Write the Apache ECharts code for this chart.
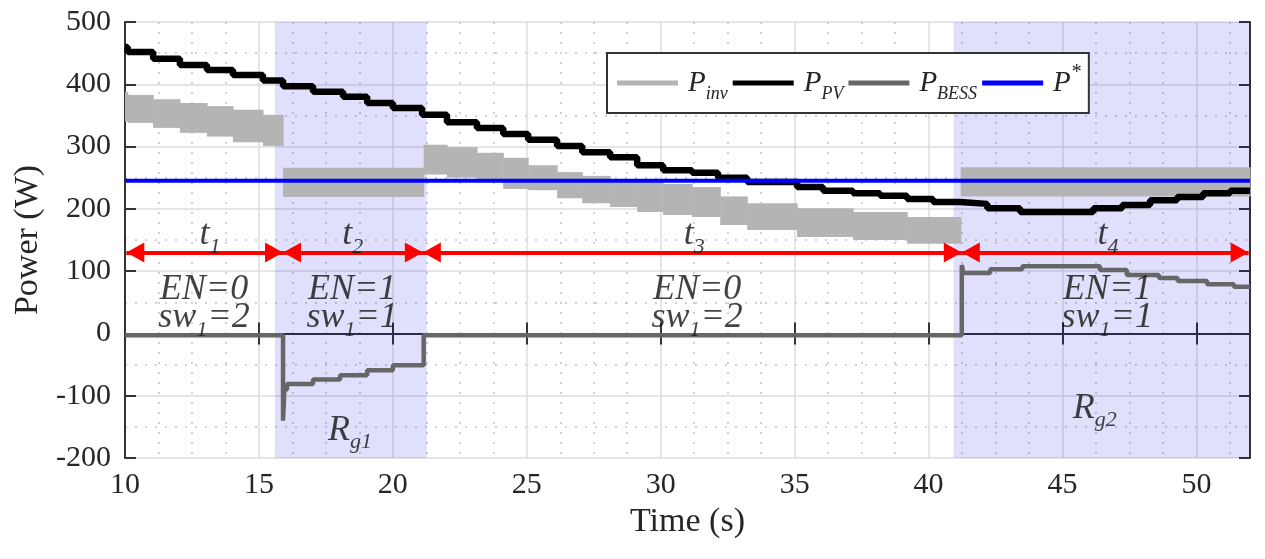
<!DOCTYPE html>
<html lang="en">
<head>
<meta charset="UTF-8" />
<title>Power flow</title>
<script src="https://cdn.jsdelivr.net/npm/echarts@6/dist/echarts.min.js"></script>
<style>
  html, body { margin: 0; background: #fff; }
  #main { width: 1265px; height: 559px; }
</style>
</head>
<body>
<div id="main"></div>
<script>
// PV power (W), stepped, each point = start of a level
const pvT = [10, 10.1, 11.05, 12.05, 13.06, 14.03, 15.15, 15.9, 17.02, 18.14, 19.04, 20.0, 21.09, 22.02, 23.14, 24.12, 25.05, 26.13, 27.07, 28.11, 29.12, 30.09, 31.17, 32.14, 33.23, 35.09, 36.06, 37.18, 38.19, 39.2, 40.17, 41.18, 42.19, 43.42, 46.15, 47.23, 48.27, 49.28, 50.25, 51.26, 52]
const pvP = [460, 452, 441, 431, 423, 415, 406, 397, 388, 380, 370, 362, 351, 339, 330, 320, 311, 301, 291, 283, 270, 262, 258, 250, 243, 235, 229, 225, 221, 216, 211, 208, 201, 195, 201, 206, 214, 219, 225, 229, 229]

// inverter power band (ripple envelope), level starts at invT[i]
const invT = [10, 10.1, 11.05, 12.05, 13.06, 14.03, 15.15, 15.9, 21.15, 22.02, 23.14, 24.12, 25.05, 26.13, 27.07, 28.11, 29.12, 30.09, 31.17, 32.22, 33.23, 35.09, 37.18, 39.2, 41.2, 52]
const invHi = [388, 383, 376, 370, 365, 359, 351, 266, 303, 299, 290, 282, 270, 259, 253, 248, 243, 240, 235, 220, 209, 201, 195, 187, 267, 267]
const invLo = [340, 338, 330, 322, 316, 307, 301, 219, 255, 250, 245, 232, 230, 217, 209, 203, 195, 190, 187, 174, 166, 155, 150, 144, 220, 220]

// battery power
const bessT = [10, 15.9, 15.95, 16.05, 17.02, 18.03, 19.04, 20.0, 21.15, 41.24, 41.3, 42.3, 43.5, 46.4, 47.4, 48.6, 49.3, 50.4, 51.4, 52]
const bessP = [-3, -140, -90, -81, -74, -67, -59, -51, -3, 110, 97, 103, 108, 102, 94, 89, 84, 79, 75, 75]

// reference power
const refT = [10, 52]
const refP = [245, 245]

// shaded grid regions and operating intervals
const regions = [[15.6, 21.27], [40.93, 52]]
const phaseBounds = [10.05, 15.9, 21.12, 41.24, 51.95]
const phaseY = 130

// annotations
const noteX = [13.17, 18.5, 31.25, 46.7, 12.95, 18.48, 31.36, 46.67, 12.95, 18.48, 31.36, 46.67, 18.4, 46.2]
const noteY = [158, 158, 158, 158, 70, 70, 70, 70, 25, 25, 25, 25, -156, -120]
const noteText = ['t_1', 't_2', 't_3', 't_4', 'EN=0', 'EN=1', 'EN=0', 'EN=1', 'sw_1=2', 'sw_1=1', 'sw_1=2', 'sw_1=1', 'R_g1', 'R_g2']

const legendNames = ['P_inv', 'P_PV', 'P_BESS', 'P^*']

const serif = '"Liberation Serif", "Times New Roman", serif'
const ink = '#262626'

// 'sw_1=2' -> rich text with subscript, 'P^*' -> superscript
function toRich(s, main) {
  let out = ''
  s.split(/([_^][^=]+)/).forEach(part => {
    if (!part) return
    if (part[0] === '_') out += '{s|' + part.slice(1) + '}'
    else if (part[0] === '^') out += '{u|' + part.slice(1) + '}'
    else out += '{' + main + '|' + part + '}'
  })
  return out
}

const pairs = (xs, ys) => xs.map((x, i) => [x, ys[i]])

const frame = { lineStyle: { color: '#333', width: 2 } }
const ticksIn = { inside: true, length: 11, lineStyle: { color: '#333', width: 2 } }
const tickText = {
  formatter: v => '{n|' + v + '}',
  rich: { n: { fontFamily: serif, fontSize: 30, color: ink } }
}
const dotted = (n) => {
  const c = ['rgba(0,0,0,0)']
  for (let i = 1; i < n; i++) c.push('#c2c2c2')
  return { show: true, lineStyle: { color: c, width: 1.5, type: [2, 8] } }
}
// arrow head in a square box: tip at the box centre (= segment end), base 18px inward
const arrowHead = 'path://M-18,0L18,0L18,0.01L-18,0.01ZM0,18L10,36L-10,36Z'

let option = {
  animation: false,
  textStyle: { fontFamily: serif },
  grid: { left: 125, right: 15, top: 22, bottom: 101 },
  legend: {
    data: legendNames,
    left: 607,
    top: 53,
    orient: 'horizontal',
    padding: [10, 8, 10, 10],
    itemGap: 5,
    itemWidth: 61,
    itemHeight: 5,
    icon: 'rect',
    backgroundColor: '#fff',
    borderColor: '#333',
    borderWidth: 2,
    borderRadius: 0,
    formatter: name => toRich(name, 'p'),
    textStyle: {
      rich: {
        p: { fontFamily: serif, fontStyle: 'italic', fontSize: 29, lineHeight: 40, color: ink, padding: [0, 0, 0, 5] },
        s: { fontFamily: serif, fontStyle: 'italic', fontSize: 18, lineHeight: 12, verticalAlign: 'bottom', color: ink },
        u: { fontFamily: serif, fontStyle: 'italic', fontSize: 20, lineHeight: 18, verticalAlign: 'top', color: ink }
      }
    }
  },
  xAxis: [
    {
      type: 'value', position: 'bottom', min: 10, max: 52, interval: 5,
      axisLine: frame, axisTick: ticksIn,
      axisLabel: Object.assign({ margin: 12, showMaxLabel: false }, tickText),
      splitLine: { lineStyle: { color: '#dcdcdc', width: 1.5 } },
      name: 'Time (s)', nameLocation: 'middle', nameGap: 45,
      nameTextStyle: { fontFamily: serif, fontSize: 34, color: ink }
    },
    {
      type: 'value', position: 'bottom', min: 10, max: 52, interval: 1.25,
      axisLine: { show: false }, axisTick: { show: false }, axisLabel: { show: false },
      splitLine: dotted(4)
    },
    {
      type: 'value', position: 'top', min: 10, max: 52, interval: 5,
      axisLine: frame, axisTick: ticksIn, axisLabel: { show: false }, splitLine: { show: false }
    }
  ],
  yAxis: [
    {
      type: 'value', position: 'left', min: -200, max: 500, interval: 100,
      axisLine: frame, axisTick: ticksIn,
      axisLabel: Object.assign({ margin: 14 }, tickText),
      splitLine: { lineStyle: { color: '#dcdcdc', width: 1.5 } },
      name: 'Power (W)', nameLocation: 'middle', nameGap: 80,
      nameTextStyle: { fontFamily: serif, fontSize: 34, color: ink }
    },
    {
      type: 'value', position: 'left', min: -200, max: 500, interval: 50,
      axisLine: { show: false }, axisTick: { show: false }, axisLabel: { show: false },
      splitLine: dotted(2)
    },
    {
      type: 'value', position: 'right', min: -200, max: 500, interval: 100,
      axisLine: frame, axisTick: ticksIn, axisLabel: { show: false }, splitLine: { show: false }
    }
  ],
  series: [
    {
      // ripple band of the inverter power: one rect per step level
      name: 'P_inv', type: 'custom', z: 2,
      itemStyle: { color: '#b4b4b4', borderWidth: 0 },
      data: invT.slice(0, -1).map((t, i) => [t, invT[i + 1], invLo[i], invHi[i]]),
      encode: { x: [0, 1], y: [2, 3] },
      renderItem: (params, api) => {
        const a = api.coord([api.value(0), api.value(3)])
        const b = api.coord([api.value(1), api.value(2)])
        return {
          type: 'rect',
          shape: { x: a[0], y: a[1], width: b[0] - a[0] + 0.6, height: b[1] - a[1] },
          style: { fill: '#b4b4b4' }
        }
      }
    },
    {
      name: 'P_PV', type: 'line', step: 'end', z: 3,
      data: pairs(pvT, pvP), showSymbol: false,
      itemStyle: { color: '#000' },
      lineStyle: { width: 6.5, color: '#000' }
    },
    {
      name: 'P_BESS', type: 'line', step: 'end', z: 3,
      data: pairs(bessT, bessP), showSymbol: false,
      itemStyle: { color: '#666' },
      lineStyle: { width: 4.5, color: '#666' }
    },
    {
      name: 'P^*', type: 'line', z: 4,
      data: pairs(refT, refP), showSymbol: false,
      itemStyle: { color: '#0000ff' },
      lineStyle: { width: 4, color: '#0000ff' },
      markArea: {
        silent: true,
        z: 1,
        itemStyle: { color: 'rgba(0,0,230,0.12)' },
        data: regions.map(r => [{ xAxis: r[0] }, { xAxis: r[1] }])
      }
    },
    {
      name: 'notes', type: 'scatter', z: 5, symbolSize: 0,
      data: noteX.map((x, i) => [x, noteY[i], noteText[i]]),
      label: {
        show: true, position: 'inside',
        formatter: p => toRich(p.data[2], 'i'),
        rich: {
          i: { fontFamily: serif, fontStyle: 'italic', fontSize: 36, lineHeight: 46, color: '#111' },
          s: { fontFamily: serif, fontStyle: 'italic', fontSize: 22, lineHeight: 24, verticalAlign: 'bottom', color: '#111' }
        }
      },
      markLine: {
        silent: true,
        symbol: [arrowHead, arrowHead],
        symbolSize: 36,
        label: { show: false },
        lineStyle: { color: '#ff0000', width: 4, type: 'solid' },
        itemStyle: { color: '#ff0000' },
        data: phaseBounds.slice(0, -1).map((b, i) => [
          { coord: [b, phaseY] }, { coord: [phaseBounds[i + 1], phaseY] }
        ])
      }
    }
  ]
}

echarts.init(document.querySelector('#main')).setOption(option)
</script>
</body>
</html>
